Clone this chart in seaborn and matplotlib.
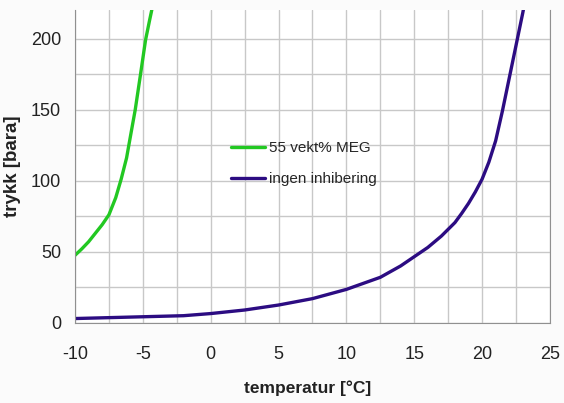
import pandas as pd
import matplotlib
matplotlib.use('Agg')
import matplotlib.pyplot as plt
import seaborn as sns
from matplotlib.ticker import MultipleLocator

# hydrate curve, 55 wt% MEG
meg_temp = [-10, -9.5, -9, -8.5, -8, -7.5, -7, -6.6, -6.2, -5.9, -5.56, -5.2, -4.8, -4.5, -4.3]
meg_press = [47.5, 52, 57, 63, 69, 76, 88, 101, 116, 132, 150, 173, 199, 213, 222]

# hydrate curve, no inhibition
pure_temp = [-10, -8, -6, -4, -2, 0, 2.5, 5, 7.5, 10, 12.5, 14, 15, 16, 17, 18,
             18.5, 19, 19.5, 20, 20.5, 21, 21.5, 22, 22.5, 23, 23.2]
pure_press = [3, 3.5, 4, 4.5, 5, 6.5, 9, 12.5, 17, 23.5, 32, 40, 46.5, 53, 61, 70.5,
              77, 84, 92, 101, 113, 128, 149, 172, 195, 218, 228]

df_meg = pd.DataFrame({'temperatur': meg_temp, 'trykk': meg_press})
df_pure = pd.DataFrame({'temperatur': pure_temp, 'trykk': pure_press})

sns.set_style('white')
plt.rcParams['font.family'] = ['Liberation Sans', 'DejaVu Sans']
plt.rcParams['axes.unicode_minus'] = False

fig = plt.figure(figsize=(5.64, 4.03), dpi=100)
fig.patch.set_facecolor('#fbfbfb')
ax = fig.add_axes([0.133, 0.199, 0.842, 0.776])

sns.lineplot(data=df_meg, x='temperatur', y='trykk', ax=ax, color='#22c822',
             linewidth=2.4, label='55 vekt% MEG', sort=False)
sns.lineplot(data=df_pure, x='temperatur', y='trykk', ax=ax, color='#2c0c82',
             linewidth=2.4, label='ingen inhibering', sort=False)

ax.set_xlim(-10, 25)
ax.set_ylim(0, 220)
ax.xaxis.set_major_locator(MultipleLocator(5))
ax.xaxis.set_minor_locator(MultipleLocator(2.5))
ax.yaxis.set_major_locator(MultipleLocator(50))
ax.yaxis.set_minor_locator(MultipleLocator(25))
ax.grid(True, which='both', color='#c8c8c8', linewidth=1)
ax.set_axisbelow(True)

ax.tick_params(axis='both', which='major', direction='out', length=5, width=1,
               color='#909090', labelsize=13, labelcolor='#222222', pad=5)
ax.tick_params(axis='both', which='minor', length=0)
ax.tick_params(axis='x', pad=12)

for side in ['left', 'bottom', 'right']:
    ax.spines[side].set_color('#909090')
ax.spines['top'].set_visible(False)

ax.set_xlabel('temperatur [°C]', fontsize=12.5, fontweight='bold', color='#222222')
ax.set_ylabel('trykk [bara]', fontsize=13.5, fontweight='bold', color='#222222')
ax.xaxis.set_label_coords(0.49, -0.185)
ax.yaxis.set_label_coords(-0.114, 0.5)

ax.legend(loc='upper left', bbox_to_anchor=(0.30, 0.625), frameon=False,
          fontsize=11, handlelength=2.2, handletextpad=0.3, labelspacing=1.1)

fig.savefig('out.png', dpi=100, facecolor=fig.get_facecolor())
